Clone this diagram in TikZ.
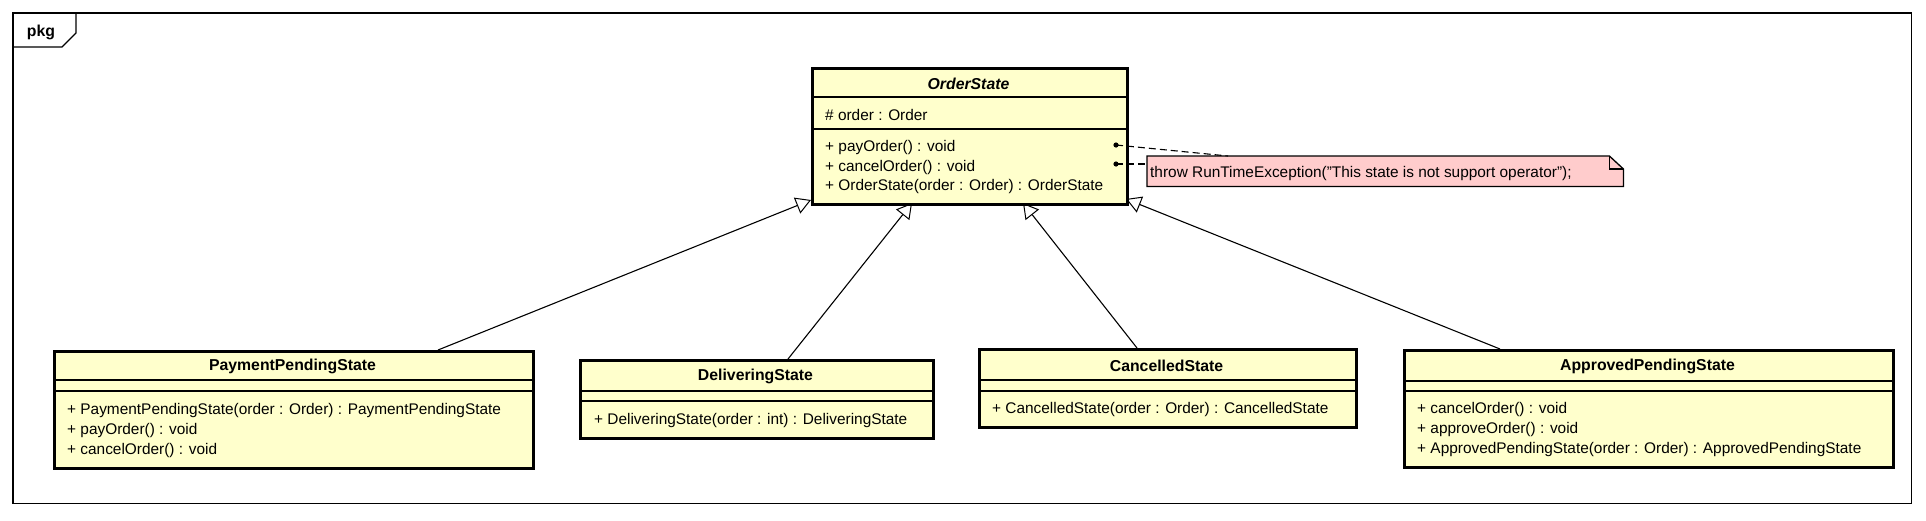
\documentclass[tikz,border=0pt]{standalone}
\usepackage{fontspec}
\setmainfont{Liberation Sans}
\usetikzlibrary{arrows.meta,calc}
\definecolor{classfill}{RGB}{255,255,204}
\definecolor{notefill}{RGB}{255,204,204}
\tikzset{
  classbox/.style={draw=black, line width=2.6pt, fill=classfill, inner sep=0pt, anchor=north west},
  sepline/.style={line width=1.3pt},
  member/.style={anchor=west, inner sep=0pt, yshift=-1.8pt, font=\fontsize{15.4}{20}\selectfont},
  ctitle/.style={inner sep=0pt, yshift=-1.8pt, font=\fontsize{15.8}{20}\selectfont\bfseries},
  gen/.style={-{Triangle[open,length=15pt,width=17pt,line width=1pt]}, line width=1.1pt},
  noteline/.style={dash pattern=on 7pt off 4pt, line width=1.1pt},
  notebox/.style={draw=black, line width=1.3pt, fill=notefill},
  frameline/.style={draw=black, line width=1.1pt}
}
\begin{document}
\begin{tikzpicture}[x=1pt,y=-1pt]
\useasboundingbox[fill=white] (0,0) rectangle (1926,520);

% package frame
\node[inner sep=0pt, minimum width=1898pt, minimum height=490pt, anchor=north west] (frame) at (13,13) {};
\draw[frameline] (frame.north west) rectangle (frame.south east);
\coordinate (tabA) at (13,47);
\coordinate (tabB) at (62,47);
\coordinate (tabC) at (76,33);
\coordinate (tabD) at (76,13);
\draw[frameline] (tabA) -- (tabB) -- (tabC) -- (tabD);
\node[ctitle] (pkg) at (41,31) {pkg};

% OrderState
\node[classbox, minimum width=315pt, minimum height=136pt] (os) at (811,67) {};
\draw[sepline] (811,97) -- (1126,97);
\draw[sepline] (811,129) -- (1126,129);
\node[ctitle, font=\fontsize{15.8}{20}\selectfont\bfseries\itshape] (ost) at (968.5,82) {OrderState};
\node[member] (osa1) at (825,113) {\# order : Order};
\node[member] (osm1) at (825,146) {+ payOrder() : void};
\node[member] (osm2) at (825,165.5) {+ cancelOrder() : void};
\node[member] (osm3) at (825,185) {+ OrderState(order : Order) : OrderState};

% PaymentPendingState
\node[classbox, minimum width=479pt, minimum height=117pt] (ps) at (53,350) {};
\draw[sepline] (53,380) -- (532,380);
\draw[sepline] (53,391) -- (532,391);
\node[ctitle] (pst) at (292.5,365) {PaymentPendingState};
\node[member] (psm1) at (67,409) {+ PaymentPendingState(order : Order) : PaymentPendingState};
\node[member] (psm2) at (67,429) {+ payOrder() : void};
\node[member] (psm3) at (67,449) {+ cancelOrder() : void};

% DeliveringState
\node[classbox, minimum width=353pt, minimum height=78pt] (ds) at (579,359) {};
\draw[sepline] (579,391) -- (932,391);
\draw[sepline] (579,401) -- (932,401);
\node[ctitle] (dst) at (755.5,375) {DeliveringState};
\node[member] (dsm1) at (594,419) {+ DeliveringState(order : int) : DeliveringState};

% CancelledState
\node[classbox, minimum width=377pt, minimum height=78pt] (cs) at (978,348) {};
\draw[sepline] (978,380) -- (1355,380);
\draw[sepline] (978,391) -- (1355,391);
\node[ctitle] (cst) at (1166.5,364) {CancelledState};
\node[member] (csm1) at (992,408) {+ CancelledState(order : Order) : CancelledState};

% ApprovedPendingState
\node[classbox, minimum width=489pt, minimum height=117pt] (as) at (1403,349) {};
\draw[sepline] (1403,381) -- (1892,381);
\draw[sepline] (1403,391) -- (1892,391);
\node[ctitle] (ast) at (1647.5,365) {ApprovedPendingState};
\node[member] (asm1) at (1417,408) {+ cancelOrder() : void};
\node[member] (asm2) at (1417,428) {+ approveOrder() : void};
\node[member] (asm3) at (1417,448) {+ ApprovedPendingState(order : Order) : ApprovedPendingState};

% generalization connectors
\coordinate (osp1) at (811,200);
\coordinate (osp2) at (912,203);
\coordinate (osp3) at (1023,203);
\coordinate (osp4) at (1126,199);
\coordinate (psc) at (438,350);
\coordinate (dsc) at (788,359);
\coordinate (csc) at (1137,348);
\coordinate (asc) at (1500,349);
\draw[gen] (psc) -- (osp1);
\draw[gen] (dsc) -- (osp2);
\draw[gen] (csc) -- (osp3);
\draw[gen] (asc) -- (osp4);

% note
\node[inner sep=0pt, minimum width=476pt, minimum height=30pt, anchor=north west] (note) at (1147,156) {};
\draw[notebox] (note.north west) -- ([xshift=-14pt]note.north east) -- ([yshift=-13pt]note.north east) -- (note.south east) -- (note.south west) -- cycle;
\draw[line width=1.3pt] ([xshift=-14pt]note.north east) -- ([xshift=-14pt,yshift=-13pt]note.north east) -- ([yshift=-13pt]note.north east);
\node[member] (notetxt) at (1150,171.5) {throw RunTimeException("This state is not support operator");};

% note anchors
\coordinate (osd1) at (1116,145);
\coordinate (osd2) at (1116,164);
\coordinate (ne1) at (1228,156);
\coordinate (ne2) at (1147,164);
\draw[noteline] (osd1) -- (ne1);
\draw[noteline] (osd2) -- (ne2);
\fill (osd1) circle[radius=2.6pt];
\fill (osd2) circle[radius=2.6pt];
\end{tikzpicture}
\end{document}
